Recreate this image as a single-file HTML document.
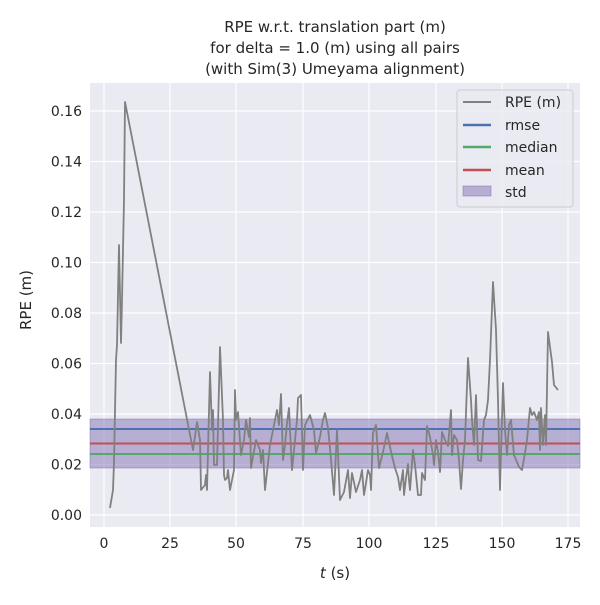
<!DOCTYPE html>
<html><head><style>body{margin:0;background:#fff}svg text{font-family:"DejaVu Sans","Liberation Sans",sans-serif;fill:#262626}</style></head><body>
<svg width="600" height="600" xmlns="http://www.w3.org/2000/svg">
<rect x="90" y="83" width="490" height="444" fill="#eaeaf2"/>
<g stroke="#fff" stroke-width="1.2">
<line x1="104" y1="83" x2="104" y2="527"/><line x1="170" y1="83" x2="170" y2="527"/><line x1="236" y1="83" x2="236" y2="527"/><line x1="303" y1="83" x2="303" y2="527"/><line x1="369" y1="83" x2="369" y2="527"/><line x1="436" y1="83" x2="436" y2="527"/><line x1="502" y1="83" x2="502" y2="527"/><line x1="568" y1="83" x2="568" y2="527"/>
<line x1="90" y1="515" x2="580" y2="515"/><line x1="90" y1="464.5" x2="580" y2="464.5"/><line x1="90" y1="414" x2="580" y2="414"/><line x1="90" y1="363.5" x2="580" y2="363.5"/><line x1="90" y1="313" x2="580" y2="313"/><line x1="90" y1="262.5" x2="580" y2="262.5"/><line x1="90" y1="212" x2="580" y2="212"/><line x1="90" y1="161.5" x2="580" y2="161.5"/><line x1="90" y1="111" x2="580" y2="111"/>
</g>
<rect x="90" y="419" width="490" height="49" fill="#8172b3" fill-opacity="0.5" stroke="#8172b3" stroke-opacity="0.5"/>
<line x1="90" y1="429" x2="580" y2="429" stroke="#4c72b0" stroke-width="2"/>
<line x1="90" y1="454" x2="580" y2="454" stroke="#55a868" stroke-width="2"/>
<line x1="90" y1="443.5" x2="580" y2="443.5" stroke="#c44e52" stroke-width="2"/>
<polyline fill="none" stroke="#808080" stroke-width="1.8" stroke-linejoin="round" points="110,508 113,490 114,462 116,360 117,345 119,245 121,343 122,300 124,200 125,102 193,450 197,422 200,440 201,490 205,485 206,475 207,490 210,372 212,430 213,410 214,465 217,465 220,347 223,420 224,475 225,480 227,478 228,470 230,490 234,470 235,390 236,420 238,412 241,455 244,440 246,420 249,437 250,418 251,468 256,440 260,450 261,463 263,450 265,490 270,445 275,420 277,410 279,425 281,394 283,460 285,445 287,423 289,408 291,450 292,470 297,420 298,398 301,395 303,470 305,425 310,415 314,430 316,453 320,437 323,420 325,413 328,428 330,448 334,495 337,430 340,500 344,492 348,470 350,498 352,473 356,492 360,480 362,470 364,495 366,483 368,470 370,475 371,490 373,433 376,425 379,468 383,452 387,433 392,456 395,468 398,477 400,490 403,470 404,495 406,478 408,464 409,480 410,490 413,450 415,465 418,495 421,495 422,473 425,480 427,426 430,437 433,455 434,465 436,440 438,452 440,472 442,432 445,440 448,446 451,410 452,455 454,435 457,440 459,460 461,489 463,460 465,440 468,358 471,400 472,420 474,445 476,395 478,460 481,461 484,420 486,415 488,400 490,360 493,282 496,330 498,400 500,490 503,383 505,430 507,455 509,425 511,420 514,455 519,467 522,470 525,453 527,440 530,408 532,415 534,412 537,420 539,412 540,450 541,408 543,445 545,415 546,445 548,332 552,362 554,385 558,390"/>
<g font-size="14" text-anchor="end">
<text x="82" y="520">0.00</text><text x="82" y="469.5">0.02</text><text x="82" y="419">0.04</text><text x="82" y="368.5">0.06</text><text x="82" y="318">0.08</text><text x="82" y="267.5">0.10</text><text x="82" y="217">0.12</text><text x="82" y="166.5">0.14</text><text x="82" y="116">0.16</text>
</g>
<g font-size="14" text-anchor="middle">
<text x="104" y="548">0</text><text x="170" y="548">25</text><text x="236" y="548">50</text><text x="303" y="548">75</text><text x="369" y="548">100</text><text x="436" y="548">125</text><text x="502" y="548">150</text><text x="568" y="548">175</text>
<text x="335" y="578" font-size="15"><tspan font-style="italic">t</tspan> (s)</text>
<text x="335" y="32" font-size="15">RPE w.r.t. translation part (m)</text>
<text x="335" y="53" font-size="15">for delta = 1.0 (m) using all pairs</text>
<text x="335" y="74" font-size="15">(with Sim(3) Umeyama alignment)</text>
</g>
<text transform="translate(31,300) rotate(-90)" font-size="15" text-anchor="middle">RPE (m)</text>
<rect x="457" y="90" width="116" height="117" rx="3" fill="#eaeaf2" fill-opacity="0.8" stroke="#ccc"/>
<g font-size="14">
<line x1="463" y1="102" x2="491" y2="102" stroke="#808080" stroke-width="2"/><text x="505" y="107">RPE (m)</text>
<line x1="463" y1="125" x2="491" y2="125" stroke="#4c72b0" stroke-width="2.5"/><text x="505" y="130">rmse</text>
<line x1="463" y1="147" x2="491" y2="147" stroke="#55a868" stroke-width="2.5"/><text x="505" y="152">median</text>
<line x1="463" y1="170" x2="491" y2="170" stroke="#c44e52" stroke-width="2.5"/><text x="505" y="175">mean</text>
<rect x="463" y="186" width="28" height="10" fill="#8172b3" fill-opacity="0.5" stroke="#8172b3" stroke-opacity="0.5"/><text x="505" y="197">std</text>
</g>
</svg>
</body></html>
